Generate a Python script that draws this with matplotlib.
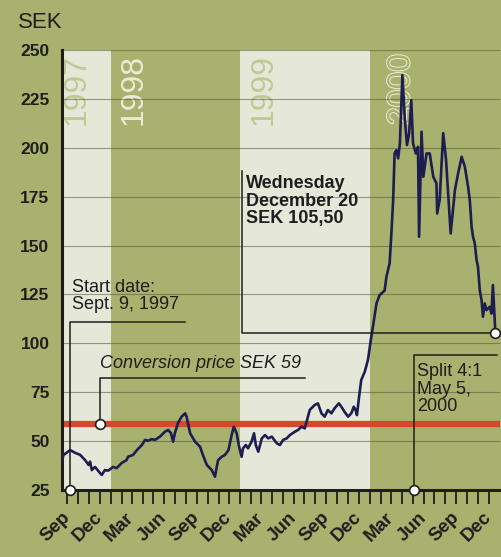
import matplotlib
matplotlib.use("Agg")
import matplotlib.pyplot as plt
import matplotlib.patheffects as pe
import pandas as pd

plt.rcParams['font.family'] = ['Liberation Sans', 'DejaVu Sans']

# share price, SEK
price_dates = [
    '1997-08-18', '1997-08-21', '1997-09-09', '1997-09-23', '1997-10-07', '1997-10-21',
    '1997-10-31', '1997-11-04', '1997-11-09', '1997-11-18', '1997-12-02', '1997-12-07',
    '1997-12-16', '1997-12-25', '1998-01-08', '1998-01-18', '1998-02-01', '1998-02-15',
    '1998-02-19', '1998-03-05', '1998-03-16', '1998-03-30', '1998-04-08', '1998-04-16',
    '1998-04-27', '1998-05-06', '1998-05-20', '1998-06-03', '1998-06-12', '1998-06-20',
    '1998-06-26', '1998-07-01', '1998-07-10', '1998-07-20', '1998-07-30', '1998-08-03',
    '1998-08-13', '1998-08-27', '1998-09-10', '1998-09-18', '1998-09-29', '1998-10-08',
    '1998-10-13', '1998-10-22', '1998-10-27', '1998-10-31', '1998-11-10', '1998-11-19',
    '1998-11-29', '1998-12-03', '1998-12-08', '1998-12-14', '1998-12-22', '1998-12-29',
    '1999-01-05', '1999-01-09', '1999-01-17', '1999-01-23', '1999-02-02', '1999-02-09',
    '1999-02-14', '1999-02-21', '1999-03-03', '1999-03-12', '1999-03-21', '1999-03-31',
    '1999-04-14', '1999-04-23', '1999-05-02', '1999-05-12', '1999-05-21', '1999-06-04',
    '1999-06-13', '1999-06-23', '1999-07-02', '1999-07-11', '1999-07-16', '1999-07-30',
    '1999-08-08', '1999-08-18', '1999-08-27', '1999-09-05', '1999-09-15', '1999-09-24',
    '1999-10-06', '1999-10-13', '1999-10-22', '1999-11-01', '1999-11-10', '1999-11-17',
    '1999-11-22', '1999-11-26', '1999-12-02', '1999-12-08', '1999-12-18', '1999-12-27',
    '2000-01-04', '2000-01-10', '2000-01-20', '2000-01-29', '2000-02-12', '2000-02-17',
    '2000-02-26', '2000-03-02', '2000-03-07', '2000-03-11', '2000-03-16', '2000-03-21',
    '2000-03-26', '2000-04-02', '2000-04-09', '2000-04-15', '2000-04-21', '2000-04-27',
    '2000-05-02', '2000-05-10', '2000-05-16', '2000-05-19', '2000-05-26', '2000-05-31',
    '2000-06-09', '2000-06-18', '2000-06-28', '2000-07-07', '2000-07-09', '2000-07-16',
    '2000-07-26', '2000-08-03', '2000-08-09', '2000-08-16', '2000-08-28', '2000-09-06',
    '2000-09-16', '2000-09-25', '2000-10-04', '2000-10-09', '2000-10-14', '2000-10-18',
    '2000-10-23', '2000-10-28', '2000-11-01', '2000-11-06', '2000-11-11', '2000-11-15',
    '2000-11-20', '2000-11-25', '2000-12-04', '2000-12-09', '2000-12-13', '2000-12-20',
]
price_sek = [
    40.3, 42.9, 45.4, 44.0, 43.0, 40.3,
    37.8, 39.5, 35.2, 36.8, 33.7, 32.7,
    35.2, 34.9, 36.8, 36.2, 38.8, 40.3,
    42.0, 42.9, 45.4, 48.0, 50.6, 50.2,
    51.0, 50.6, 52.3, 54.8, 55.7, 54.1,
    49.7, 54.1, 59.3, 62.5, 64.2, 62.5,
    54.0, 49.7, 47.1, 42.9, 37.8, 36.1,
    35.2, 31.8, 36.9, 40.3, 42.0, 42.9,
    45.4, 48.9, 53.1, 57.4, 54.0, 47.1,
    42.0, 46.3, 48.0, 46.3, 49.7, 54.0,
    48.0, 44.6, 51.4, 53.1, 51.4, 52.3,
    48.9, 48.0, 50.6, 51.4, 53.1, 54.8,
    55.7, 57.4, 56.5, 62.5, 65.9, 68.5,
    69.3, 64.2, 62.5, 65.9, 64.2, 66.8,
    69.3, 67.6, 65.0, 62.5, 64.2, 67.6,
    65.9, 63.3, 72.7, 81.2, 85.5, 91.5,
    101.7, 108.5, 120.4, 124.7, 127.0, 134.0,
    140.9, 156.2, 173.3, 197.1, 198.8, 194.6,
    202.2, 237.2, 214.2, 201.4, 207.5, 224.4,
    202.2, 197.1, 200.5, 154.5, 208.2, 185.2,
    197.1, 197.1, 185.2, 181.8, 166.4, 173.3,
    207.5, 193.7, 176.7, 156.2, 178.4, 186.9,
    195.4, 190.3, 180.1, 173.0, 159.6, 154.5,
    151.1, 142.6, 139.2, 127.2, 122.1, 113.6,
    120.4, 117.0, 118.7, 115.2, 129.8, 105.5,
]

conversion_price = 59
start_date = '1997-09-09'
split_date = '2000-05-05'
last_date = '2000-12-20'
last_price = 105.5
years = ['1997', '1998', '1999', '2000']
y_ticks = [25, 50, 75, 100, 125, 150, 175, 200, 225, 250]

green = '#a9b16e'
cream = '#e5e7d8'
ink = '#1e1e1e'

dates = pd.to_datetime(price_dates)

fig = plt.figure(figsize=(5.02, 5.57), dpi=100, facecolor=green)
ax = fig.add_axes([62 / 502, 67 / 557, 438 / 502, 440 / 557])
ax.set_facecolor(green)
ax.set_xlim(pd.Timestamp('1997-08-17'), pd.Timestamp('2001-01-02'))
ax.set_ylim(25, 250)

# alternate year bands
ax.axvspan(pd.Timestamp('1997-08-17'), pd.Timestamp('1998-01-01'), color=cream, lw=0, zorder=0.2)
ax.axvspan(pd.Timestamp('1999-01-01'), pd.Timestamp('2000-01-01'), color=cream, lw=0, zorder=0.2)

year_x = ['1997-09-28', '1998-03-08', '1999-03-08', '2000-03-30']
for yr, xd in zip(years, year_x):
    on_cream = yr in ('1997', '1999')
    t = ax.text(pd.Timestamp(xd), 248, yr, rotation=90, ha='center', va='top',
                fontsize=23, color='#c2c894' if on_cream else '#ecebd8', zorder=0.3)
    if yr == '2000':
        t.set_color(green)
        t.set_path_effects([pe.withStroke(linewidth=1.3, foreground='#f2f1df')])

ax.set_yticks(y_ticks)
ax.yaxis.grid(True, color='#50553a', lw=0.8, alpha=0.55)
ax.set_axisbelow(True)

for s in ['top', 'right']:
    ax.spines[s].set_visible(False)
for s in ['left', 'bottom']:
    ax.spines[s].set_linewidth(2.2)
    ax.spines[s].set_color(ink)

months = pd.date_range('1997-09-01', '2000-12-01', freq='MS')
month_labels = [m.strftime('%b') if m.month in (3, 6, 9, 12) else '' for m in months]
ax.set_xticks(months)
ax.set_xticklabels(month_labels)
ax.tick_params(axis='x', length=10, width=1.3, color=ink, pad=8)
ax.tick_params(axis='y', length=0, pad=9)
for lab in ax.get_xticklabels():
    lab.set_rotation(45)
    lab.set_rotation_mode('anchor')
    lab.set_ha('right')
    lab.set_va('center')
    lab.set_fontsize(13.5)
    lab.set_fontweight('bold')
    lab.set_color(ink)
for lab in ax.get_yticklabels():
    lab.set_fontsize(12.5)
    lab.set_fontweight('bold')
    lab.set_color(ink)

# conversion price
ax.axhline(conversion_price, color='#d6472b', lw=4.5, zorder=2)

# share price
ax.plot(dates, price_sek, color='#1d1d52', lw=1.9, zorder=3)

line_kw = dict(color=ink, lw=1.1, zorder=4, clip_on=False)
dot_kw = dict(marker='o', ms=7, mfc='white', mec=ink, mew=1.2, zorder=5, clip_on=False, ls='none')

# start date callout
sd = pd.Timestamp(start_date)
ax.plot([sd, sd, pd.Timestamp('1998-07-30')], [25, 111, 111], **line_kw)
ax.plot([sd], [25], **dot_kw)
ax.text(pd.Timestamp('1997-09-14'), 133, 'Start date:\nSept. 9, 1997', ha='left', va='top',
        fontsize=13, linespacing=1.05, color=ink)

# conversion price callout
cd = pd.Timestamp('1997-12-02')
ax.plot([cd, cd, pd.Timestamp('1999-07-02')], [conversion_price, 82.3, 82.3], **line_kw)
ax.plot([cd], [conversion_price], **dot_kw)
ax.text(cd, 87.4, 'Conversion price SEK 59', ha='left', va='baseline',
        fontsize=13, style='italic', color=ink)

# last price callout
ld = pd.Timestamp(last_date)
wd = pd.Timestamp('1999-01-06')
ax.plot([wd, wd, ld], [188, last_price, last_price], **line_kw)
ax.plot([ld], [last_price], **dot_kw)
ax.text(pd.Timestamp('1999-01-17'), 186, 'Wednesday\nDecember 20\nSEK 105,50', ha='left', va='top',
        fontsize=13, fontweight='bold', linespacing=1.05, color=ink)

# split callout
spd = pd.Timestamp(split_date)
ax.plot([spd, spd, pd.Timestamp('2000-12-25')], [25, 94, 94], **line_kw)
ax.plot([spd], [25], **dot_kw)
ax.text(pd.Timestamp('2000-05-13'), 90, 'Split 4:1\nMay 5,\n2000', ha='left', va='top',
        fontsize=13, linespacing=1.05, color=ink)

fig.text(18 / 502, (557 - 28) / 557, 'SEK', fontsize=16, ha='left', va='baseline', color=ink)

fig.savefig('out.png', dpi=100, facecolor=green)
